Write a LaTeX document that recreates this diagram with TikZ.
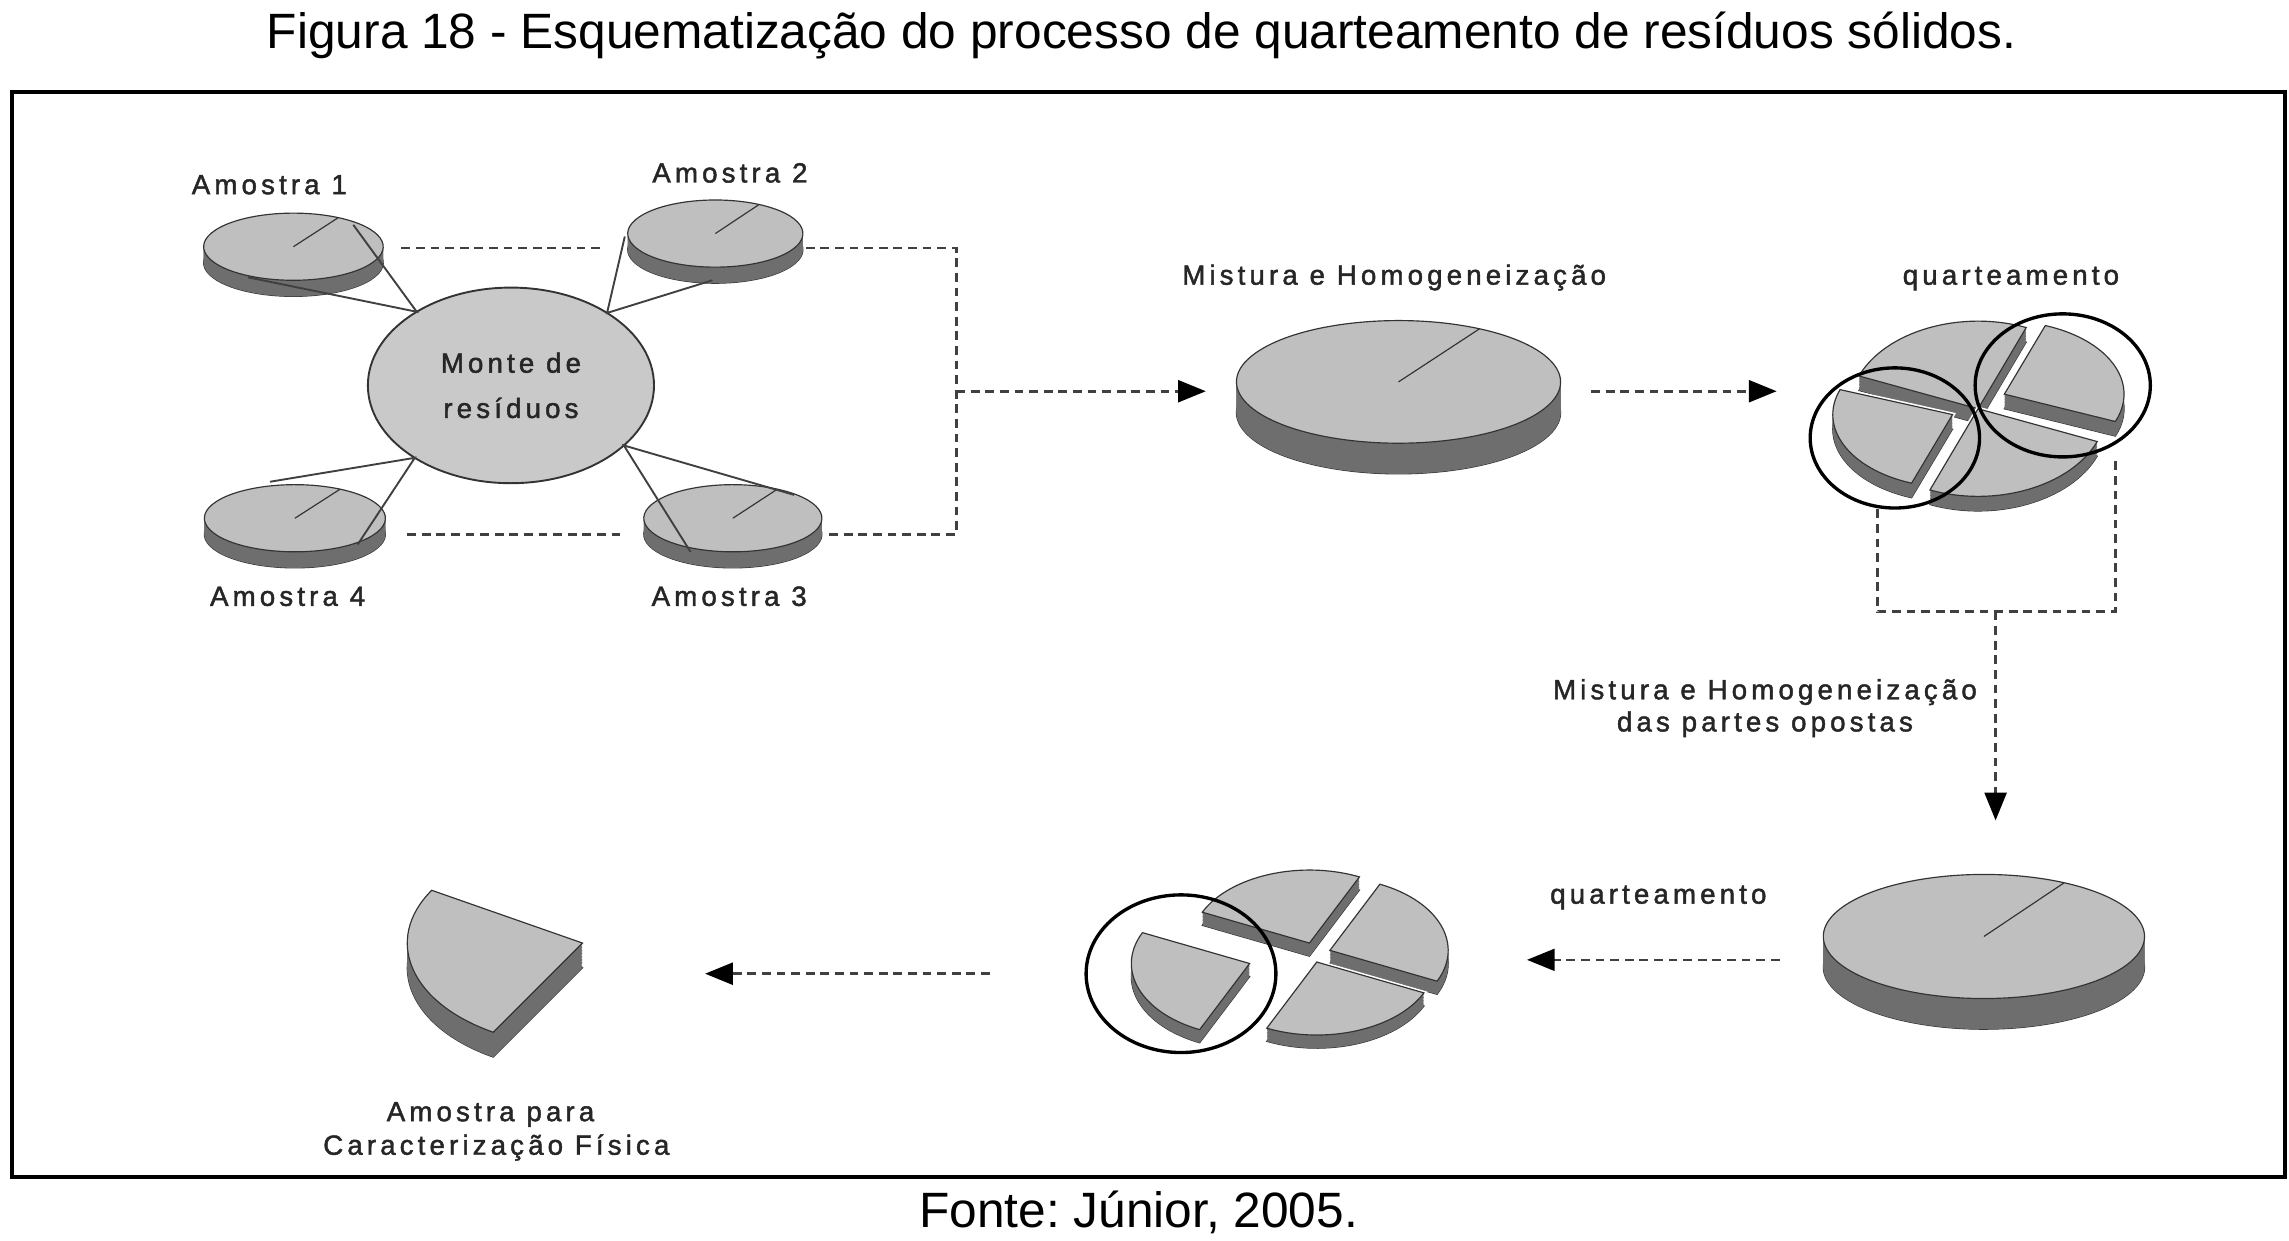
\documentclass[tikz,border=0pt]{standalone}
\usepackage{fontspec}
\setmainfont{Liberation Sans}
\newfontfamily\rotulofont[LetterSpace=14.8,FakeBold=1.6]{Liberation Sans}
\usetikzlibrary{arrows.meta,shapes.geometric}
\frenchspacing
\definecolor{topo}{gray}{0.75}
\definecolor{lado}{gray}{0.43}
\definecolor{borda}{gray}{0.2}
\definecolor{monte}{gray}{0.79}
% fatia de disco: centro x, centro y, raio x, raio y, altura, angulo inicial, angulo final
\newcommand{\fatia}[7]{%
  \draw[white,line width=3] (#1,#2+#5) -- ++(#6:#3 and #4) arc[start angle=#6,end angle=#7,x radius=#3,y radius=#4] -- cycle;
  \draw[white,line width=3] (#1,#2) -- ++(#6:#3 and #4) arc[start angle=#6,end angle=#7,x radius=#3,y radius=#4] -- cycle;
  \draw[borda,fill=lado,line width=0.8] (#1,#2+#5) -- ++(#6:#3 and #4) arc[start angle=#6,end angle=#7,x radius=#3,y radius=#4] -- cycle;
  \foreach \k in {#5,...,1}
    \fill[lado] (#1,#2+\k) -- ++(#6:#3 and #4) arc[start angle=#6,end angle=#7,x radius=#3,y radius=#4] -- cycle;
  \draw[borda,fill=topo,line width=0.8] (#1,#2) -- ++(#6:#3 and #4) arc[start angle=#6,end angle=#7,x radius=#3,y radius=#4] -- cycle;
}
\begin{document}
\begin{tikzpicture}[x=1pt,y=-1pt,
  rotulo/.style={font=\rotulofont\fontsize{19}{31}\selectfont,text=black!85,inner sep=0pt,anchor=base},
  tracejado/.style={draw=black!75,line width=1.8,dash pattern=on 6pt off 4pt},
  seta/.style={tracejado,-{Triangle[length=19pt,width=15pt,color=black]}},
  liga/.style={draw=black!75,line width=1.3},
  aro/.style={draw=black,line width=2.3}]
\useasboundingbox (0,0) rectangle (1568,850);
\node[font=\fontsize{34}{40}\selectfont,anchor=base,inner sep=0pt] (titulo) at (782,33) {Figura 18 - Esquematização do processo de quarteamento de resíduos sólidos.};
\draw[line width=2.7] (8,63) rectangle (1565,806);
\node[font=\fontsize{34}{40}\selectfont,anchor=base,inner sep=0pt] (fonte) at (780,841) {Fonte: Júnior, 2005.};

% amostras e monte
\fatia{201}{169}{61.5}{23}{11}{300}{660}
\fatia{490}{160}{60}{23}{11}{300}{660}
\fatia{502}{355}{61}{23}{11}{300}{660}
\fatia{202}{355}{62}{23}{11}{300}{660}
\node[ellipse,draw=borda,line width=1.3,fill=monte,minimum width=196,minimum height=134,inner sep=0pt,outer sep=0pt,
  align=center,font=\rotulofont\fontsize{19}{31}\selectfont,text=black!85] (monte) at (350,264) {Monte de\\resíduos};
\node[rotulo] (am1) at (184.5,133) {Amostra 1};
\node[rotulo] (am2) at (500,125) {Amostra 2};
\node[rotulo] (am4) at (197,415) {Amostra 4};
\node[rotulo] (am3) at (499.5,415) {Amostra 3};
\coordinate (d1a) at (242,154); \coordinate (d1b) at (170,190);
\coordinate (d2a) at (428,162); \coordinate (d2b) at (488,192);
\coordinate (d4a) at (185,330); \coordinate (d4b) at (245,373);
\coordinate (d3a) at (473,378); \coordinate (d3b) at (544,339);
\draw[liga] (d1a) -- (monte.142) -- (d1b);
\draw[liga] (d2a) -- (monte.37) -- (d2b);
\draw[liga] (d4a) -- (monte.217) -- (d4b);
\draw[liga] (d3a) -- (monte.332) -- (d3b);
\coordinate (t1) at (275,170); \coordinate (t2) at (413,170);
\coordinate (t3) at (552,170); \coordinate (jt) at (655,170);
\coordinate (b1) at (279,366); \coordinate (b2) at (427,366);
\coordinate (b3) at (567,366); \coordinate (jb) at (655,366);
\coordinate (jm) at (655,268); \coordinate (m1in) at (826,268);
\draw[tracejado] (t1) -- (t2);
\draw[tracejado] (b1) -- (b2);
\draw[tracejado] (t3) -- (jt) -- (jb) -- (b3);
\draw[seta] (jm) -- (m1in);

% mistura e primeiro quarteamento
\fatia{958}{261.6}{111}{42}{21}{300}{660}
\node[rotulo] (mist) at (955,195) {Mistura e Homogeneização};
\coordinate (m1out) at (1090,268); \coordinate (q1in) at (1217,268);
\draw[seta] (m1out) -- (q1in);
\fatia{1355}{280}{88}{60}{10}{202}{292}
\fatia{1355}{280}{88}{60}{10}{22}{112}
\fatia{1373}{270}{82}{50}{10}{290}{382}
\fatia{1337.5}{284}{82}{50}{10}{110}{200}
\draw[aro] (1298,300) ellipse[x radius=58,y radius=48];
\draw[aro] (1413,264) ellipse[x radius=60,y radius=49];
\node[rotulo] (quart) at (1377.5,195) {quarteamento};
\coordinate (q1l) at (1286,349); \coordinate (bl) at (1286,419);
\coordinate (q1r) at (1449,315); \coordinate (br) at (1449,419);
\coordinate (bm) at (1367,419); \coordinate (m2in) at (1367,562);
\draw[tracejado] (q1l) -- (bl) -- (br) -- (q1r);
\draw[seta] (bm) -- (m2in);
\node[rotulo] (mist2) at (1209,479) {Mistura e Homogeneização};
\node[rotulo] (opost) at (1209,501) {das partes opostas};

% segunda mistura e segundo quarteamento
\fatia{1359}{641.5}{110}{42.5}{21}{300}{660}
\node[rotulo] (quart2) at (1136,619) {quarteamento};
\coordinate (m2out) at (1219,657.5); \coordinate (q2in) at (1046,657.5);
\draw[seta] (m2out) -- (q2in);
\fatia{897}{646}{81}{50}{9}{205}{295}
\fatia{911}{651}{81}{50}{9}{295}{385}
\fatia{902}{659}{81}{50}{9}{25}{115}
\fatia{856}{660}{81}{50}{9}{115}{205}
\draw[aro] (809,667) ellipse[x radius=65,y radius=54];
\coordinate (q2out) at (678,667); \coordinate (amin) at (483,667);
\draw[seta] (q2out) -- (amin);

% amostra final
\fatia{399}{646}{120}{71}{17}{120.6}{210.6}
\node[rotulo] (amfis) at (336,768) {Amostra para};
\node[rotulo] (carac) at (340,791) {Caracterização Física};
\end{tikzpicture}
\end{document}
